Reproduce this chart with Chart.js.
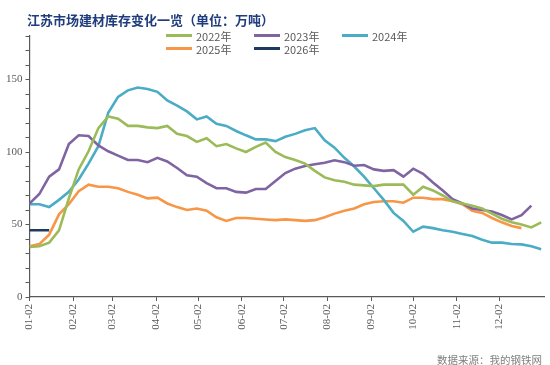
<!DOCTYPE html>
<html>
<head>
<meta charset="utf-8">
<script src="https://cdn.jsdelivr.net/npm/chart.js@4"></script>
<style>
  html,body{margin:0;padding:0;background:#fff;}
  #wrap{position:relative;width:550px;height:365px;overflow:hidden;}
  #c{position:absolute;left:0;top:0;}
  #title{position:absolute;left:27px;top:10px;font:bold 13px "Noto Sans CJK SC";color:#1f3c7c;white-space:nowrap;}
  #legend{position:absolute;left:166px;top:29px;display:grid;grid-template-columns:88px 88px 88px;row-gap:0;}
  .li{display:flex;align-items:center;height:13px;font:11px "Noto Sans CJK SC";color:#595959;white-space:nowrap;}
  .li i{display:inline-block;width:26px;height:3px;margin-right:4px;}
  #src{position:absolute;right:8px;top:352px;font:10.5px "Noto Sans CJK SC";color:#808080;}
</style>
</head>
<body>
<div id="wrap">
  <canvas id="c" width="550" height="365"></canvas>
  <div id="title">江苏市场建材库存变化一览（单位：万吨）</div>
  <div id="legend"></div>
  <div id="src">数据来源：我的钢铁网</div>
</div>
<script>
// 江苏建材库存，按周（距 01-02 的天数）
const weekDays = [0,7,14,21,28,35,42,49,56,63,70,77,84,91,98,105,112,119,126,133,140,147,154,161,168,175,182,189,196,203,210,217,224,231,238,245,252,259,266,273,280,287,294,301,308,315,322,329,336,343,350,357,364];
const monthDays = [0,31,59,90,120,151,181,212,243,273,304,334];
const monthLabels = ["01-02","02-02","03-02","04-02","05-02","06-02","07-02","08-02","09-02","10-02","11-02","12-02"];

const y2022 = [34.5,35,37.5,46,68,88,100.5,116.5,124.5,123,118,118,117,116.5,118,112.5,111,107,109.5,104,105.5,102.5,100,103.5,106.5,100,96.5,94.5,92,87,82.5,80.5,79.5,77.5,77,76.5,77.5,77.5,77.5,70.5,76,73.5,70,66,64.5,63,61,57.5,54,51.5,50,48,51.5];
const y2023 = [64.5,71,83,88,105.5,111.5,111,104.5,100.5,97.5,94.5,94.5,93,96,93.5,89,84,83,78.5,75,75,72.5,72,74.5,74.5,80,85.5,88.5,90.3,91.5,92.6,94.3,93,90.5,91,88,87,87.5,83,88.5,85,79,73.5,67.5,64.5,61,60,59,56.5,53.5,56.5,63];
const y2024 = [64,64,62,67,72.5,81,92,104,127,138,142.5,144.5,143.5,141.5,135.5,132,128,122.5,124.5,119.5,118,114.5,111.5,108.7,108.7,107.5,110.5,112.5,115,116.5,108,103,96,90,83,75,67,58,52.5,45,48.5,47.5,46,45,43.5,42,39.5,37.5,37.5,36.5,36.3,35,33];
const y2025 = [35,36.5,43,57,64,73,77.5,76,76,75,72.5,70.5,68,68.5,64.5,62,60,61,59.5,55,52.5,54.5,54.5,54,53.5,53,53.5,53,52.5,53,55,57.5,59.5,61,64,65.5,66,66,65,68.5,68.5,67.5,67.5,66,64,59.5,58,54.5,51.5,49,47.5];
const y2026 = [46,46,46];

const seriesNames = ["2022年","2023年","2024年","2025年","2026年"];
const seriesColors = ["#9bbb59","#8064a2","#4bacc6","#f79646","#1f3a5f"];
const seriesValues = [y2022,y2023,y2024,y2025,y2026];

const AXIS = "#595959", INK = "#595959";
const serif = "Liberation Serif";

const datasets = seriesNames.map((n,k)=>({
  label:n,
  data:seriesValues[k].map((v,i)=>({x:weekDays[i],y:v})),
  borderColor:seriesColors[k],
  backgroundColor:seriesColors[k],
  borderWidth:2.6,
  pointRadius:0,
  tension:0,
  order:k===4?-1:k
}));

new Chart(document.getElementById("c"), {
  type:"line",
  data:{datasets},
  options:{
    responsive:false,
    animation:false,
    devicePixelRatio:1,
    layout:{padding:{top:36,right:6,left:0,bottom:0}},
    plugins:{legend:{display:false},title:{display:false},tooltip:{enabled:false}},
    scales:{
      x:{
        type:"linear", min:0, max:366,
        afterBuildTicks:s=>{ s.ticks = monthDays.map(v=>({value:v})); },
        afterFit:s=>{ s.height = 68; },
        ticks:{
          autoSkip:false, maxRotation:90, minRotation:90, padding:3,
          color:INK, font:{family:serif,size:11},
          callback:(v,i)=>monthLabels[i]
        },
        grid:{drawOnChartArea:false, drawTicks:true, tickLength:4, color:AXIS},
        border:{color:AXIS, width:1.2}
      },
      y:{
        min:0, max:180,
        afterBuildTicks:s=>{ const t=[]; for(let v=0;v<=180;v+=10) t.push({value:v}); s.ticks=t; },
        afterFit:s=>{ s.width = 29.5; },
        ticks:{
          autoSkip:false, padding:3, color:INK, font:{family:serif,size:11},
          callback:v=>v%50===0?v:""
        },
        grid:{drawOnChartArea:false, drawTicks:true, tickLength:4, color:AXIS},
        border:{color:AXIS, width:1.2}
      }
    }
  }
});

const lg = document.getElementById("legend");
seriesNames.forEach((n,k)=>{
  const d=document.createElement("div"); d.className="li";
  d.innerHTML=`<i style="background:${seriesColors[k]}"></i>${n}`;
  lg.appendChild(d);
});
</script>
</body>
</html>
